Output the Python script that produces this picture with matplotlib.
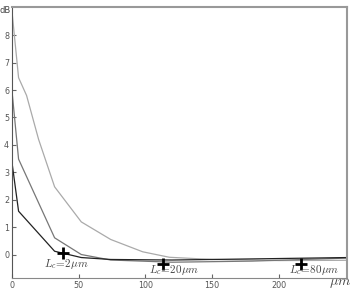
import matplotlib
matplotlib.use("Agg")
import matplotlib.pyplot as plt

# curves, dB vs length in um
x_80 = [0, 5, 11, 20, 32, 52, 74, 98, 118, 150, 200, 251]
y_80 = [8.9, 6.45, 5.8, 4.2, 2.47, 1.19, 0.55, 0.1, -0.1, -0.18, -0.22, -0.21]

x_20 = [0, 5, 32, 52, 74, 120, 180, 251]
y_20 = [6.0, 3.48, 0.61, 0.0, -0.2, -0.28, -0.24, -0.13]

x_2 = [0, 5, 32, 52, 74, 120, 180, 251]
y_2 = [3.38, 1.58, 0.12, -0.11, -0.18, -0.2, -0.16, -0.11]

mark_x = [38.5, 113.5, 216.8]
mark_y = [0.04, -0.33, -0.35]
mark_lbl = [r'$L_c\!=\!2\mu m$', r'$L_c\!=\!20\mu m$', r'$L_c\!=\!80\mu m$']
lbl_x = [41, 121.5, 226.5]
lbl_y = [-0.35, -0.57, -0.57]

plt.rcParams['mathtext.fontset'] = 'cm'

fig = plt.figure(figsize=(3.5, 2.9), dpi=100)
ax = fig.add_axes([0.034, 0.041, 0.957, 0.935])

ax.plot(x_80, y_80, color='#aaaaaa', lw=0.9)
ax.plot(x_20, y_20, color='#777777', lw=0.9)
ax.plot(x_2, y_2, color='#222222', lw=0.9)

ax.plot(mark_x, mark_y, '+', color='black', ms=8, mew=2)
for tx, ty, t in zip(lbl_x, lbl_y, mark_lbl):
    ax.text(tx, ty, t, ha='center', va='center', fontsize=8, color='#444444')

ax.set_xlim(0, 251)
ax.set_ylim(-0.86, 9.03)
ax.set_xticks([0, 50, 100, 150, 200])
ax.set_yticks(range(0, 9))
ax.tick_params(direction='in', length=3, labelsize=5.8, labelcolor='#555555',
               color='#666666', pad=2)

for s in ['top', 'right']:
    ax.spines[s].set_color('#999999')
    ax.spines[s].set_linewidth(1.5)
ax.spines['left'].set_color('#555555')
ax.spines['bottom'].set_color('#888888')

fig.text(0.0, 0.965, 'dB', fontsize=6, color='#444444', va='center')
fig.text(0.94, 0.0, r'$\mu m$', fontsize=10, color='#444444', va='bottom')

fig.savefig("out.png", dpi=100)
